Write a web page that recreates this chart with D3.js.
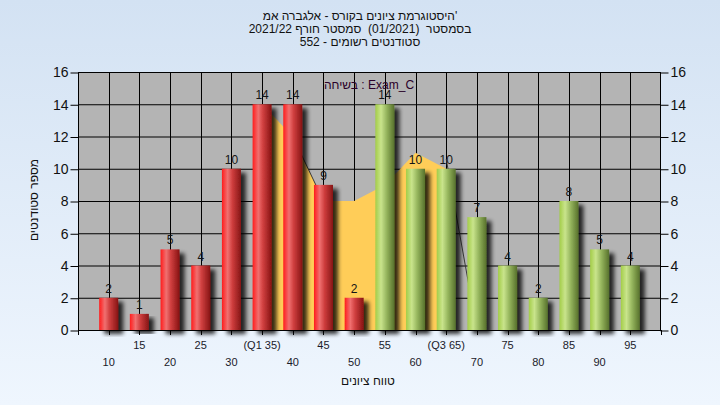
<!DOCTYPE html>
<html><head><meta charset="utf-8">
<script src="https://cdn.jsdelivr.net/npm/d3@7"></script>
<style>body{margin:0;background:#fff} svg{display:block}</style>
</head><body>
<svg id="c" width="720" height="405"></svg>
<script>
// ---- data ----
const titleLines = [
  "'היסטוגרמת ציונים בקורס - אלגברה אמ",
  "בסמסטר  (01/2021)  סמסטר חורף 2021/22",
  "סטודנטים רשומים - 552"
];
const bins = [10,15,20,25,30,35,40,45,50,55,60,65,70,75,80,85,90,95];
const counts = [2,1,5,4,10,14,14,9,2,14,10,10,7,4,2,8,5,4];
const tickLabels = ["10","15","20","25","30","(Q1 35)","40","45","50","55","60","(Q3 65)","70","75","80","85","90","95"];
const passFrom = 55;
const areaBins = [35,40,45,50,55,60,65];
const areaValues = [14,12,8,8,9,11,10];
const edgeFromBin = [40,65], edgeFromVal = [12,10.6], edgeToBin = [45,70], edgeToVal = [8,0];
const yTicks = [0,2,4,6,8,10,12,14,16];
const legendText = "בשיחה : Exam_C";
const yTitle = "מספר סטודנטים";
const xTitle = "טווח ציונים";

// ---- layout ----
const svg = d3.select("#c");
const W = 720, H = 405;
const L = 78, R = 661, T = 72, B = 330;
const x = d3.scaleLinear().domain([5,100]).range([L,R]);
const y = d3.scaleLinear().domain([0,16]).range([B,T]);
const font = "'Liberation Sans', Arial, 'DejaVu Sans', sans-serif";

const defs = svg.append("defs");
const bg = defs.append("linearGradient").attr("id","bg").attr("x1",0).attr("y1",0).attr("x2",0).attr("y2",1);
bg.append("stop").attr("offset","0%").attr("stop-color","#d3e2f3");
bg.append("stop").attr("offset","100%").attr("stop-color","#eff6fe");

function barGrad(id, stops){
  const g = defs.append("linearGradient").attr("id",id).attr("x1",0).attr("y1",0).attr("x2",1).attr("y2",0);
  stops.forEach(s=>g.append("stop").attr("offset",s[0]).attr("stop-color",s[1]));
}
barGrad("red",[["0%","#ff1c1c"],["30%","#f07070"],["55%","#cf3e3e"],["100%","#861414"]]);
barGrad("green",[["0%","#a3cd48"],["30%","#c9e48c"],["60%","#94b45c"],["100%","#57712c"]]);

const f = defs.append("filter").attr("id","sh").attr("x","-30%").attr("y","-10%").attr("width","190%").attr("height","130%");
f.append("feGaussianBlur").attr("in","SourceAlpha").attr("stdDeviation",2.2);
f.append("feOffset").attr("dx",5).attr("dy",4).attr("result","o");
const ct = f.append("feComponentTransfer").attr("in","o").attr("result","s");
ct.append("feFuncA").attr("type","linear").attr("slope",0.8);
const fm = f.append("feMerge");
fm.append("feMergeNode").attr("in","s");
fm.append("feMergeNode").attr("in","SourceGraphic");

svg.append("rect").attr("width",W).attr("height",H).attr("fill","url(#bg)");

// plot background
svg.append("rect").attr("x",L).attr("y",T).attr("width",R-L).attr("height",B-T).attr("fill","#b4b4b4");

// grid
svg.append("g").selectAll("line").data(yTicks).join("line")
  .attr("x1",L).attr("x2",R).attr("y1",d=>y(d)+0.5).attr("y2",d=>y(d)+0.5)
  .attr("stroke","#000").attr("stroke-width",1);
svg.append("g").selectAll("line").data(bins).join("line")
  .attr("x1",d=>Math.round(x(d))+0.5).attr("x2",d=>Math.round(x(d))+0.5).attr("y1",T).attr("y2",B)
  .attr("stroke","#000").attr("stroke-width",1);

// yellow area
const area = d3.area().x(d=>x(d[0])).y0(y(0)).y1(d=>y(d[1]));
svg.append("path").datum(areaBins.map((b,i)=>[b,areaValues[i]]))
  .attr("d",area).attr("fill","#ffcd58");
svg.append("g").selectAll("line").data(edgeFromBin).join("line")
  .attr("x1",(d,i)=>x(d)).attr("y1",(d,i)=>y(edgeFromVal[i]))
  .attr("x2",(d,i)=>x(edgeToBin[i])).attr("y2",(d,i)=>y(edgeToVal[i]))
  .attr("stroke","#3a3a3a").attr("stroke-width",1);

// legend
svg.append("text").attr("x",369).attr("y",89).attr("text-anchor","middle")
  .attr("font-family",font).attr("font-size",12).attr("fill","#2a0028").text(legendText);

// bars
const bw = 19;
svg.append("g").selectAll("rect").data(bins).join("rect")
  .attr("x",d=>x(d)-bw/2).attr("width",bw)
  .attr("y",(d,i)=>y(counts[i])).attr("height",(d,i)=>y(0)-y(counts[i]))
  .attr("fill",d=>d>=passFrom?"url(#green)":"url(#red)")
  .attr("filter","url(#sh)");

// bar labels
svg.append("g").selectAll("text").data(bins).join("text")
  .attr("x",d=>x(d)).attr("y",(d,i)=>y(counts[i])-5)
  .attr("text-anchor","middle").attr("font-family",font).attr("font-size",12).attr("fill","#151515")
  .text((d,i)=>counts[i]);

// axes frame
svg.append("rect").attr("x",L+0.5).attr("y",T+0.5).attr("width",R-L-1).attr("height",B-T)
  .attr("fill","none").attr("stroke","#000").attr("stroke-width",1);
svg.append("line").attr("x1",L).attr("x2",R).attr("y1",B+0.5).attr("y2",B+0.5).attr("stroke","#000");

// y axes
const yl = svg.append("g").attr("transform",`translate(${L+0.5},0.5)`)
  .call(d3.axisLeft(y).tickValues(yTicks).tickSize(8).tickPadding(2).tickFormat(d3.format("d")));
const yr = svg.append("g").attr("transform",`translate(${R-0.5},0.5)`)
  .call(d3.axisRight(y).tickValues(yTicks).tickSize(8).tickPadding(2).tickFormat(d3.format("d")));
[yl,yr].forEach(g=>{
  g.select(".domain").remove();
  g.selectAll("line").attr("stroke","#000");
  g.selectAll("text").attr("font-family",font).attr("font-size",14).attr("fill","#111");
});

// x axis ticks
const xt = d3.range(5,101,5);
svg.append("g").selectAll("line").data(xt).join("line")
  .attr("x1",d=>Math.round(x(d))+0.5).attr("x2",d=>Math.round(x(d))+0.5)
  .attr("y1",B).attr("y2",B+5).attr("stroke","#000");
svg.append("g").selectAll("text").data(bins).join("text")
  .attr("x",d=>x(d)).attr("y",(d,i)=>i%2===1?349:366)
  .attr("text-anchor","middle").attr("font-family",font).attr("font-size",11).attr("fill","#1a1a2a")
  .text((d,i)=>tickLabels[i]);

// titles
svg.append("g").selectAll("text").data(titleLines).join("text")
  .attr("x",360).attr("y",(d,i)=>20+i*13).attr("text-anchor","middle")
  .attr("direction","rtl").style("white-space","pre")
  .attr("font-family",font).attr("font-size",12).attr("fill","#111").text(d=>d);

svg.append("text").attr("transform","translate(38,200) rotate(-90)")
  .attr("text-anchor","middle").attr("direction","rtl").attr("font-family",font).attr("font-size",12).attr("fill","#111")
  .text(yTitle);
svg.append("text").attr("x",368).attr("y",385).attr("text-anchor","middle").attr("direction","rtl")
  .attr("font-family",font).attr("font-size",12).attr("fill","#111").text(xTitle);
</script>
</body></html>
